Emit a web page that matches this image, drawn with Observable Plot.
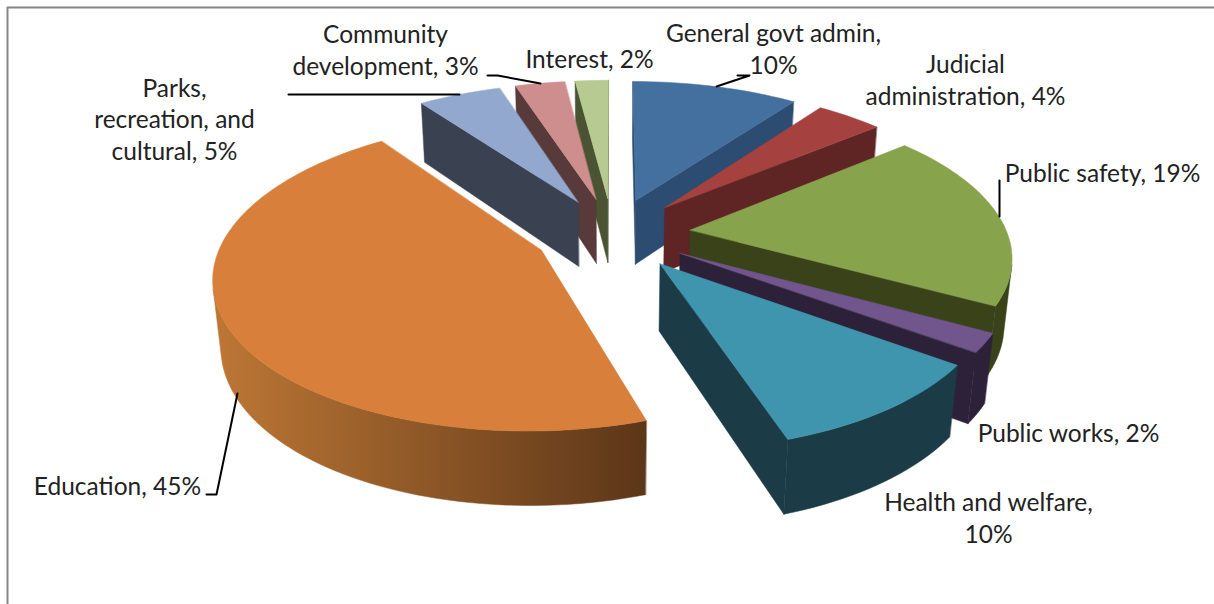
<!DOCTYPE html>
<html>
<head>
<meta charset="utf-8">
<script src="https://cdn.jsdelivr.net/npm/d3@7"></script>
<script src="https://cdn.jsdelivr.net/npm/@observablehq/plot@0.6"></script>
<style>
  html, body { margin: 0; padding: 0; background: #fff; }
  svg { display: block; }
</style>
</head>
<body>
<div id="chart"></div>
<script>
// Spending shares by function, clockwise from 12 o'clock.
const categories = ["General govt admin", "Judicial administration", "Public safety", "Public works",
  "Health and welfare", "Education", "Parks, recreation, and cultural", "Community development", "Interest"];
const shares = [10, 4, 19, 2, 10, 45, 5, 3, 2];

// Wording of each label up to its percentage, with its line breaks.
const labelStems = ["General govt admin,\n", "Judicial\nadministration, ", "Public safety, ", "Public works, ",
  "Health and welfare,\n", "Education, ", "Parks,\nrecreation, and\ncultural, ", "Community\ndevelopment, ", "Interest, "];

// Top-face and side colours per slice.
const topColors = ["#44709f", "#a5423f", "#87a34c", "#70568c", "#3f95ad", "#d77f3b", "#92a8cf", "#cd8e8d", "#b6ca91"];
const sideColors = ["#2c4c72", "#5f2524", "#394219", "#2c2138", "#1b3c47", "#b97534", "#3a4151", "#573a39", "#4b5432"];

// Label centres in chart pixels, in the same order as the categories.
const labelX = [773, 965, 1102, 1068, 988, 117, 174, 385, 589];
const labelY = [47.5, 78.5, 171.5, 431.5, 516.5, 484.5, 117.5, 48.5, 57.5];

// Leader lines between labels and slices, in chart pixels.
const leaders = [
  [[737, 75], [749, 75], [716, 86]],
  [[999, 180], [999, 216]],
  [[206, 494], [216, 494], [237, 393]],
  [[288, 94], [459, 94]],
  [[487, 75], [497, 75], [540, 83]]
];

const W = 1214, H = 604;

// Perspective view of the exploded pie: unit radius disc, viewed from the front.
const view = {cx: 612, cy: 233, a: 317, b: 146.8, k: 0.156, q: 0.02, depth: 67, explode: 0.247};

function project(X, Y, z) {
  const w = 1 + view.k * Y + view.q * z;
  return {x: view.cx + view.a * X / w, y: view.cy + (-view.b * Y + view.depth * z) / w};
}

const arcs = d3.pie().sort(null)(shares);
const at = (p, z) => project(p[0], p[1], z);

// A wall along the clockwise edge p -> q faces the viewer when its lower edge falls outside the top face.
function facesViewer(p, q) {
  const a = at(p, 0), b = at(q, 0), c = at(p, 1);
  return (b.x - a.x) * (c.y - a.y) - (b.y - a.y) * (c.x - a.x) < 0;
}

function sliceFaces(arc, i) {
  const mid = (arc.startAngle + arc.endAngle) / 2;
  const ox = view.explode * Math.sin(mid), oy = view.explode * Math.cos(mid);
  const steps = Math.max(4, Math.ceil((arc.endAngle - arc.startAngle) / 0.03));
  const rim = d3.range(steps + 1).map(s => {
    const t = arc.startAngle + (arc.endAngle - arc.startAngle) * s / steps;
    return [ox + Math.sin(t), oy + Math.cos(t)];
  });
  const apex = [ox, oy];
  const first = rim[0], last = rim[rim.length - 1];
  const side = sideColors[i];
  const wall = (p, q) => [at(p, 0), at(q, 0), at(q, 1), at(p, 1)];
  const faces = [];
  if (facesViewer(apex, first)) faces.push({points: wall(apex, first), fill: side});
  if (facesViewer(last, apex)) faces.push({points: wall(last, apex), fill: side});
  const seen = rim.filter((p, s) =>
    (s < steps && facesViewer(p, rim[s + 1])) || (s > 0 && facesViewer(rim[s - 1], p)));
  if (seen.length > 1) faces.push({
    points: [...seen.map(p => at(p, 0)), ...seen.slice().reverse().map(p => at(p, 1))],
    fill: categories[i] === "Education" ? "url(#education-side)" : side
  });
  faces.push({points: [at(apex, 0), ...rim.map(p => at(p, 0))], fill: topColors[i]});
  return faces;
}

// Back slices go first so the nearer ones overlap them.
const paintOrder = [8, 7, 6, 0, 1, 2, 3, 4, 5];
const faces = paintOrder.flatMap(i => sliceFaces(arcs[i], i));

const labels = categories.map((c, i) => ({
  text: labelStems[i] + shares[i] + "%",
  x: labelX[i],
  y: labelY[i]
}));

// Side-wall shading of the largest slice, dark towards its right end.
const gradient = () => {
  const defs = d3.create("svg:defs");
  const g = defs.append("linearGradient").attr("id", "education-side");
  g.append("stop").attr("offset", "0%").attr("stop-color", "#bd7735");
  g.append("stop").attr("offset", "100%").attr("stop-color", "#5c3618");
  return defs.node();
};

const chart = Plot.plot({
  width: W,
  height: H,
  margin: 0,
  x: {domain: [0, W], range: [0, W], axis: null},
  y: {domain: [0, H], range: [0, H], axis: null},
  marks: [
    gradient,
    Plot.ruleY([7], {x1: 7, x2: W, stroke: "#858585", strokeWidth: 2}),
    Plot.ruleX([7], {y1: 7, y2: H, stroke: "#858585", strokeWidth: 2}),
    ...faces.map(f => Plot.line(f.points, {x: "x", y: "y", fill: f.fill, stroke: f.fill, strokeWidth: 0.5, curve: "linear-closed"})),
    ...leaders.map(l => Plot.line(l, {x: d => d[0], y: d => d[1], stroke: "#000", strokeWidth: 2})),
    Plot.text(labels, {
      x: "x", y: "y", text: "text",
      fontFamily: "Lato", fontSize: 24.5, lineHeight: 1.29, fill: "#222", textAnchor: "middle"
    })
  ]
});
document.getElementById("chart").append(chart);
</script>
</body>
</html>
